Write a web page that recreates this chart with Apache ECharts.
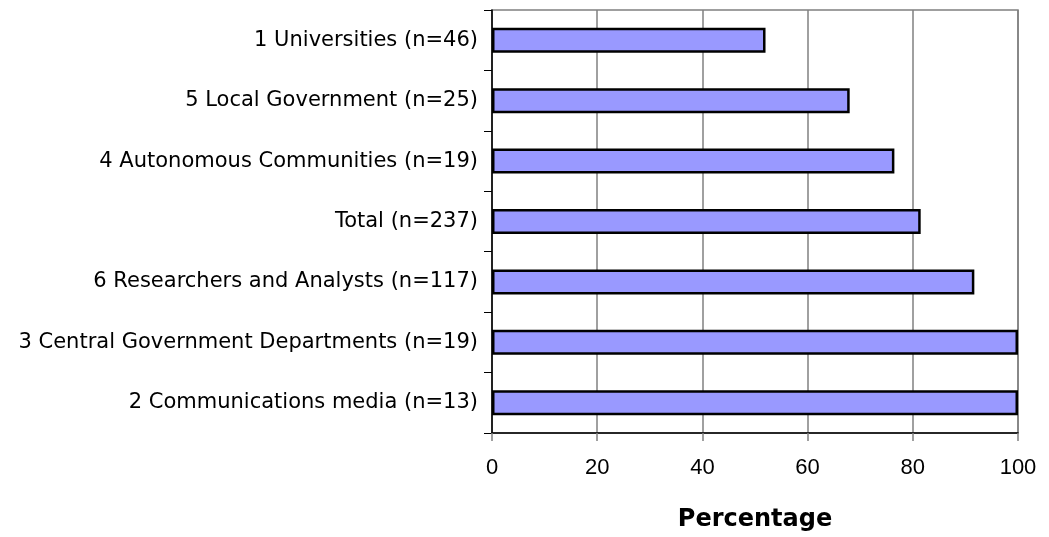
<!DOCTYPE html>
<html>
<head>
<meta charset="utf-8">
<script src="https://cdn.jsdelivr.net/npm/echarts@6/dist/echarts.min.js"></script>
<style>
  html, body { margin: 0; padding: 0; background: #fff; }
  #chart { width: 1049px; height: 537px; }
</style>
</head>
<body>
<div id="chart"></div>
<script>
// Respondent groups, listed top to bottom
const categories = [
  '1 Universities (n=46)',
  '5 Local Government (n=25)',
  '4 Autonomous Communities (n=19)',
  'Total (n=237)',
  '6 Researchers and Analysts (n=117)',
  '3 Central Government Departments (n=19)',
  '2 Communications media (n=13)'
];
// Percentage per group
const percentages = [52, 68, 76.5, 81.5, 91.7, 100, 100];
const xTicks = [0, 20, 40, 60, 80, 100];
const xAxisTitle = 'Percentage';

const chart = echarts.init(document.getElementById('chart'), null, { renderer: 'canvas' });

chart.setOption({
  animation: false,
  backgroundColor: '#ffffff',
  grid: {
    left: 492, right: 31, top: 10, bottom: 102,
    show: true,
    borderColor: '#808080',
    borderWidth: 1.5,
    backgroundColor: 'transparent'
  },
  xAxis: {
    type: 'value',
    min: xTicks[0],
    max: xTicks[xTicks.length - 1],
    interval: xTicks[1] - xTicks[0],
    name: xAxisTitle,
    nameLocation: 'middle',
    nameGap: 75,
    nameTextStyle: {
      fontFamily: 'DejaVu Sans',
      fontWeight: 'bold',
      fontSize: 24,
      color: '#000'
    },
    axisLine: { show: true, lineStyle: { color: '#000', width: 1.5 } },
    axisTick: { show: true, length: 8, lineStyle: { color: '#808080', width: 1.5 } },
    axisLabel: {
      margin: 24,
      fontFamily: 'Liberation Sans',
      fontSize: 22,
      color: '#000'
    },
    splitLine: { show: true, lineStyle: { color: '#808080', width: 1.5 } }
  },
  yAxis: {
    type: 'category',
    data: categories,
    inverse: true,
    axisLine: { show: true, lineStyle: { color: '#000', width: 1.5 } },
    axisTick: { show: true, length: 8, lineStyle: { color: '#000', width: 1 } },
    axisLabel: {
      margin: 14,
      fontFamily: 'DejaVu Sans',
      fontSize: 21,
      color: '#000'
    },
    splitLine: { show: false }
  },
  series: [{
    type: 'bar',
    data: percentages,
    barWidth: 25,
    itemStyle: {
      color: '#9999ff',
      borderColor: '#000',
      borderWidth: 2.5
    }
  }]
});
</script>
</body>
</html>
